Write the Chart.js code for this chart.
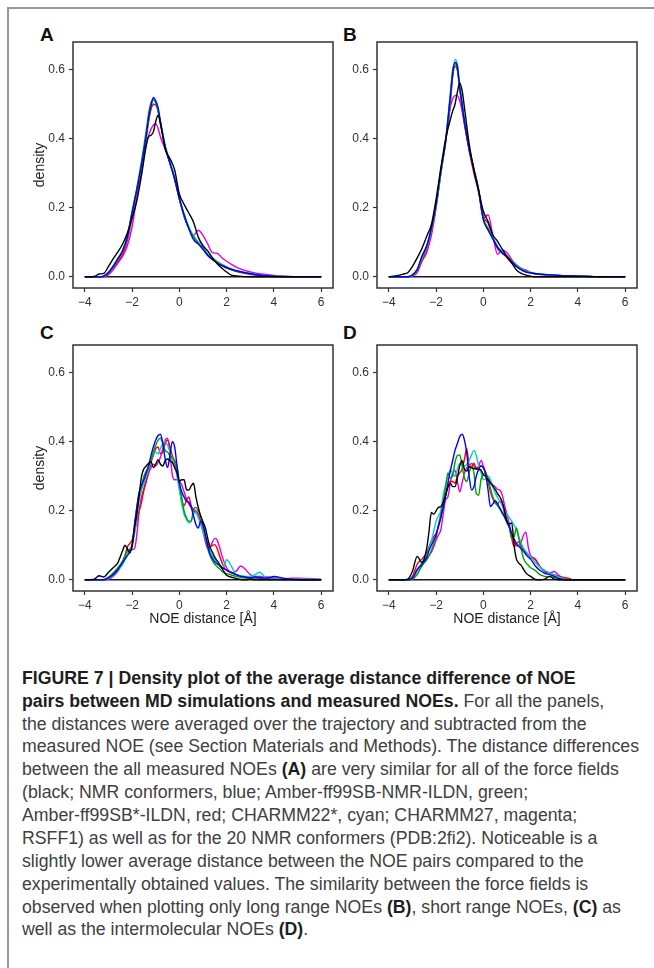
<!DOCTYPE html>
<html>
<head>
<meta charset="utf-8">
<title>NOE density plots</title>
<script src="https://cdn.jsdelivr.net/npm/chart.js@4.4.1/dist/chart.umd.min.js"></script>
<style>
  html, body { margin:0; padding:0; background:#ffffff; }
  body { width:654px; height:968px; position:relative; overflow:hidden; font-family:"Liberation Sans", Arial, Helvetica, sans-serif; }
  #frame { position:absolute; left:7px; top:7px; width:700px; height:1000px; border-top:2px solid #979797; border-left:2px solid #979797; box-sizing:border-box; }
  canvas { position:absolute; }
  .plabel { position:absolute; font-weight:bold; font-size:19px; line-height:19px; color:#111; }
  #caption { position:absolute; left:22px; top:666.8px; transform-origin:0 0; font-size:17.5px; line-height:22.88px; color:#404040; white-space:nowrap; }
  #caption b { color:#1e1e1e; }
  #caption .ln span { display:inline-block; }
</style>
</head>
<body>
<div id="frame"></div>
<div class="plabel" style="left:40px;top:24.5px">A</div>
<div class="plabel" style="left:343px;top:24.5px">B</div>
<div class="plabel" style="left:40px;top:322.5px">C</div>
<div class="plabel" style="left:343px;top:322.5px">D</div>
<canvas id="cA" width="320" height="290" style="left:20px;top:30px;width:320px;height:290px"></canvas>
<canvas id="cB" width="310" height="290" style="left:340px;top:30px;width:310px;height:290px"></canvas>
<canvas id="cC" width="320" height="300" style="left:20px;top:333px;width:320px;height:300px"></canvas>
<canvas id="cD" width="310" height="300" style="left:340px;top:333px;width:310px;height:300px"></canvas>

<div id="caption">
  <div class="ln"><span><b>FIGURE 7 | Density plot of the average distance difference of NOE</b></span></div>
  <div class="ln"><span><b>pairs between MD simulations and measured NOEs.</b> For all the panels,</span></div>
  <div class="ln"><span>the distances were averaged over the trajectory and subtracted from the</span></div>
  <div class="ln" id="refline"><span>measured NOE (see Section Materials and Methods). The distance differences</span></div>
  <div class="ln"><span>between the all measured NOEs <b>(A)</b> are very similar for all of the force fields</span></div>
  <div class="ln"><span>(black; NMR conformers, blue; Amber-ff99SB-NMR-ILDN, green;</span></div>
  <div class="ln"><span>Amber-ff99SB*-ILDN, red; CHARMM22*, cyan; CHARMM27, magenta;</span></div>
  <div class="ln"><span>RSFF1) as well as for the 20 NMR conformers (PDB:2fi2). Noticeable is a</span></div>
  <div class="ln"><span>slightly lower average distance between the NOE pairs compared to the</span></div>
  <div class="ln"><span>experimentally obtained values. The similarity between the force fields is</span></div>
  <div class="ln"><span>observed when plotting only long range NOEs <b>(B)</b>, short range NOEs, <b>(C)</b> as</span></div>
  <div class="ln"><span>well as the intermolecular NOEs <b>(D)</b>.</span></div>
</div>

<script>
// ---------------- DATA ----------------
const X_TICKS = [-4, -2, 0, 2, 4, 6];
const Y_TICKS = [0, 0.2, 0.4, 0.6];
const X_TITLE = 'NOE distance [Å]';
const Y_TITLE = 'density';
const BASE_X = [-4, 6];
const BASE_Y = [0, 0];

// x grid for panels A and B
const GRID_AB = [-4, -3.6, -3.4, -3.2, -3.0, -2.8, -2.6, -2.4, -2.2, -2.0, -1.8, -1.6, -1.4, -1.3, -1.2, -1.1, -1.0, -0.9, -0.8, -0.6, -0.4, -0.2, 0, 0.2, 0.4, 0.6, 0.8, 1.0, 1.2, 1.4, 1.6, 1.8, 2.0, 2.2, 2.5, 3.0, 3.5, 4.0, 4.5, 5.0, 6.0];

// Panel A: all NOEs
const A_black   = [0, 0.001, 0.008, 0.01, 0.03, 0.052, 0.072, 0.095, 0.127, 0.17, 0.22, 0.295, 0.38, 0.406, 0.41, 0.42, 0.45, 0.468, 0.444, 0.37, 0.343, 0.31, 0.24, 0.21, 0.185, 0.158, 0.115, 0.09, 0.075, 0.055, 0.038, 0.025, 0.014, 0.005, 0.002, 0, 0, 0, 0, 0, 0];
const A_blue    = [0, 0, 0, 0.002, 0.012, 0.03, 0.052, 0.075, 0.115, 0.186, 0.252, 0.325, 0.41, 0.46, 0.495, 0.52, 0.51, 0.49, 0.45, 0.377, 0.33, 0.285, 0.228, 0.18, 0.14, 0.108, 0.095, 0.08, 0.062, 0.05, 0.04, 0.033, 0.027, 0.022, 0.016, 0.009, 0.004, 0.002, 0.0005, 0, 0];
const A_green   = [0, 0, 0, 0.003, 0.014, 0.032, 0.054, 0.078, 0.12, 0.19, 0.258, 0.335, 0.425, 0.475, 0.505, 0.515, 0.505, 0.48, 0.445, 0.378, 0.33, 0.282, 0.225, 0.175, 0.14, 0.115, 0.097, 0.08, 0.064, 0.052, 0.042, 0.034, 0.027, 0.021, 0.015, 0.008, 0.004, 0.002, 0.0005, 0, 0];
const A_red     = [0, 0, 0, 0.001, 0.01, 0.025, 0.045, 0.065, 0.105, 0.172, 0.245, 0.32, 0.405, 0.45, 0.485, 0.5, 0.498, 0.48, 0.445, 0.375, 0.33, 0.283, 0.225, 0.175, 0.14, 0.118, 0.1, 0.082, 0.063, 0.05, 0.04, 0.032, 0.025, 0.02, 0.014, 0.007, 0.003, 0.001, 0, 0, 0];
const A_cyan    = [0, 0, 0, 0.002, 0.011, 0.028, 0.05, 0.074, 0.112, 0.18, 0.25, 0.322, 0.41, 0.46, 0.495, 0.512, 0.505, 0.485, 0.45, 0.38, 0.335, 0.288, 0.228, 0.182, 0.145, 0.118, 0.1, 0.085, 0.066, 0.055, 0.045, 0.036, 0.029, 0.023, 0.017, 0.01, 0.005, 0.003, 0.001, 0, 0];
const A_magenta = [0, 0, 0, 0, 0.006, 0.02, 0.04, 0.06, 0.09, 0.145, 0.23, 0.31, 0.39, 0.41, 0.428, 0.44, 0.444, 0.43, 0.405, 0.37, 0.33, 0.285, 0.225, 0.18, 0.142, 0.12, 0.135, 0.12, 0.095, 0.07, 0.068, 0.055, 0.045, 0.036, 0.025, 0.014, 0.008, 0.004, 0.002, 0, 0];

// Panel B: long range NOEs
const B_black   = [0, 0.004, 0.008, 0.012, 0.03, 0.055, 0.082, 0.117, 0.151, 0.225, 0.315, 0.398, 0.455, 0.48, 0.5, 0.535, 0.562, 0.54, 0.49, 0.385, 0.31, 0.25, 0.19, 0.16, 0.122, 0.103, 0.08, 0.058, 0.04, 0.02, 0.01, 0.005, 0.002, 0, 0, 0, 0, 0, 0, 0, 0];
const B_blue    = [0, 0, 0, 0, 0.006, 0.022, 0.06, 0.09, 0.141, 0.212, 0.31, 0.39, 0.52, 0.585, 0.622, 0.61, 0.55, 0.5, 0.449, 0.37, 0.31, 0.25, 0.165, 0.135, 0.11, 0.085, 0.068, 0.058, 0.043, 0.03, 0.02, 0.014, 0.011, 0.009, 0.007, 0.005, 0.003, 0.002, 0.001, 0, 0];
const B_green   = [0, 0, 0, 0, 0.005, 0.02, 0.055, 0.088, 0.138, 0.21, 0.305, 0.395, 0.53, 0.6, 0.618, 0.6, 0.545, 0.495, 0.45, 0.372, 0.312, 0.252, 0.17, 0.14, 0.112, 0.086, 0.07, 0.06, 0.045, 0.032, 0.022, 0.015, 0.011, 0.009, 0.007, 0.005, 0.003, 0.002, 0.001, 0, 0];
const B_red     = [0, 0, 0, 0, 0.004, 0.018, 0.045, 0.08, 0.13, 0.205, 0.3, 0.39, 0.5, 0.58, 0.61, 0.6, 0.545, 0.495, 0.445, 0.365, 0.3, 0.245, 0.175, 0.155, 0.115, 0.082, 0.07, 0.055, 0.04, 0.03, 0.022, 0.02, 0.012, 0.008, 0.006, 0.004, 0.003, 0.002, 0.001, 0, 0];
const B_cyan    = [0, 0, 0, 0, 0.005, 0.02, 0.052, 0.085, 0.135, 0.205, 0.3, 0.39, 0.51, 0.59, 0.63, 0.615, 0.555, 0.505, 0.455, 0.375, 0.315, 0.255, 0.17, 0.14, 0.115, 0.088, 0.072, 0.06, 0.046, 0.034, 0.024, 0.017, 0.013, 0.01, 0.008, 0.005, 0.003, 0.002, 0.001, 0, 0];
const B_magenta = [0, 0, 0, 0, 0.002, 0.012, 0.045, 0.07, 0.12, 0.2, 0.3, 0.39, 0.49, 0.515, 0.525, 0.525, 0.51, 0.48, 0.44, 0.37, 0.31, 0.25, 0.17, 0.18, 0.12, 0.065, 0.078, 0.07, 0.05, 0.035, 0.025, 0.017, 0.012, 0.01, 0.007, 0.005, 0.003, 0.003, 0.001, 0, 0];

// x grid for panels C and D
const GRID_CD = [-4, -3.6, -3.4, -3.2, -3.0, -2.8, -2.6, -2.4,
  -2.3, -2.2, -2.1, -2.0, -1.9, -1.8, -1.7, -1.6, -1.5, -1.4, -1.3, -1.2, -1.1, -1.0, -0.9, -0.8, -0.7, -0.6, -0.5, -0.4, -0.3, -0.2, -0.1,
  0, 0.1, 0.2, 0.3, 0.4, 0.5, 0.6, 0.7, 0.8, 0.9, 1.0, 1.1, 1.2, 1.3, 1.4, 1.5, 1.6, 1.7, 1.8, 1.9, 2.0,
  2.2, 2.4, 2.6, 2.8, 3.0, 3.2, 3.4, 3.6, 3.8, 4.0, 4.5, 5.0, 5.5, 6.0];

// Panel C: short range NOEs
const C_black = [0, 0.002, 0.012, 0.008, 0.022, 0.035, 0.05, 0.085,
  0.1, 0.09, 0.078, 0.1, 0.15, 0.19, 0.245, 0.3, 0.322, 0.33, 0.338, 0.343, 0.325, 0.335, 0.348, 0.335, 0.33, 0.345, 0.35, 0.345, 0.34, 0.325, 0.31,
  0.285, 0.29, 0.29, 0.262, 0.26, 0.272, 0.28, 0.24, 0.21, 0.185, 0.168, 0.15, 0.12, 0.094, 0.08, 0.065, 0.055, 0.045, 0.033, 0.022, 0.013,
  0.008, 0.004, 0.001, 0, 0.002, 0, 0, 0, 0, 0, 0, 0, 0, 0];
const C_blue = [0, 0, 0, 0, 0.006, 0.015, 0.03, 0.05,
  0.06, 0.07, 0.08, 0.1, 0.16, 0.21, 0.255, 0.275, 0.29, 0.31, 0.33, 0.36, 0.385, 0.405, 0.418, 0.422, 0.395, 0.35, 0.325, 0.36, 0.4, 0.385, 0.33,
  0.28, 0.255, 0.24, 0.228, 0.225, 0.21, 0.185, 0.16, 0.15, 0.17, 0.16, 0.13, 0.1, 0.075, 0.062, 0.052, 0.046, 0.042, 0.036, 0.032, 0.028,
  0.022, 0.015, 0.01, 0.008, 0.006, 0.008, 0.006, 0.005, 0.006, 0.01, 0.003, 0.001, 0, 0];
const C_green = [0, 0, 0, 0, 0.008, 0.02, 0.035, 0.055,
  0.07, 0.085, 0.085, 0.095, 0.15, 0.21, 0.25, 0.27, 0.3, 0.315, 0.33, 0.345, 0.37, 0.39, 0.405, 0.41, 0.395, 0.375, 0.37, 0.36, 0.355, 0.345, 0.33,
  0.28, 0.24, 0.2, 0.18, 0.17, 0.17, 0.205, 0.21, 0.2, 0.185, 0.16, 0.125, 0.09, 0.07, 0.055, 0.045, 0.038, 0.032, 0.025, 0.02, 0.018,
  0.014, 0.01, 0.007, 0.005, 0.004, 0.004, 0.003, 0.003, 0.002, 0.002, 0.001, 0, 0, 0];
const C_red = [0, 0, 0, 0, 0.005, 0.015, 0.03, 0.05,
  0.07, 0.095, 0.105, 0.115, 0.14, 0.17, 0.2, 0.225, 0.26, 0.285, 0.31, 0.34, 0.36, 0.38, 0.385, 0.365, 0.37, 0.395, 0.405, 0.385, 0.36, 0.34, 0.31,
  0.27, 0.23, 0.215, 0.23, 0.24, 0.215, 0.2, 0.195, 0.185, 0.165, 0.145, 0.125, 0.105, 0.095, 0.1, 0.102, 0.09, 0.07, 0.05, 0.035, 0.027,
  0.02, 0.015, 0.01, 0.007, 0.005, 0.004, 0.003, 0.003, 0.002, 0.002, 0.001, 0, 0, 0];
const C_cyan = [0, 0, 0, 0, 0.004, 0.012, 0.028, 0.045,
  0.06, 0.075, 0.09, 0.1, 0.13, 0.18, 0.23, 0.26, 0.28, 0.3, 0.32, 0.345, 0.365, 0.37, 0.365, 0.38, 0.395, 0.4, 0.39, 0.37, 0.345, 0.33, 0.3,
  0.26, 0.22, 0.19, 0.175, 0.165, 0.17, 0.19, 0.195, 0.18, 0.16, 0.14, 0.12, 0.1, 0.085, 0.07, 0.058, 0.048, 0.04, 0.035, 0.042, 0.058,
  0.04, 0.015, 0.012, 0.01, 0.01, 0.015, 0.022, 0.01, 0.005, 0.004, 0.003, 0.002, 0.002, 0];
const C_magenta = [0, 0, 0, 0, 0.002, 0.01, 0.025, 0.05,
  0.07, 0.085, 0.088, 0.088, 0.09, 0.13, 0.2, 0.24, 0.265, 0.29, 0.31, 0.325, 0.335, 0.33, 0.34, 0.355, 0.38, 0.405, 0.41, 0.37, 0.305, 0.29, 0.29,
  0.285, 0.275, 0.255, 0.235, 0.22, 0.21, 0.205, 0.2, 0.19, 0.17, 0.14, 0.11, 0.09, 0.095, 0.11, 0.12, 0.115, 0.095, 0.07, 0.05, 0.035,
  0.02, 0.025, 0.04, 0.03, 0.015, 0.01, 0.01, 0.008, 0.008, 0.006, 0.004, 0.005, 0.004, 0.002];

// Panel D: intermolecular NOEs
const D_black = [0, 0, 0, 0.002, 0.025, 0.068, 0.05, 0.09,
  0.14, 0.195, 0.19, 0.2, 0.21, 0.212, 0.225, 0.245, 0.268, 0.28, 0.27, 0.27, 0.295, 0.33, 0.345, 0.32, 0.315, 0.327, 0.325, 0.322, 0.322, 0.32, 0.318,
  0.305, 0.3, 0.29, 0.28, 0.272, 0.262, 0.25, 0.24, 0.225, 0.2, 0.17, 0.162, 0.165, 0.1, 0.06, 0.048, 0.042, 0.03, 0.02, 0.014, 0.01,
  0.001, 0, 0.002, 0.01, 0.002, 0, 0, 0, 0, 0, 0, 0, 0, 0];
const D_blue = [0, 0, 0, 0, 0.005, 0.03, 0.045, 0.065,
  0.085, 0.1, 0.115, 0.13, 0.155, 0.18, 0.21, 0.24, 0.28, 0.315, 0.345, 0.375, 0.395, 0.415, 0.422, 0.405, 0.365, 0.3, 0.26, 0.27, 0.3, 0.32, 0.33,
  0.325, 0.305, 0.26, 0.212, 0.22, 0.23, 0.22, 0.208, 0.195, 0.183, 0.168, 0.154, 0.135, 0.118, 0.105, 0.097, 0.09, 0.083, 0.073, 0.066, 0.06,
  0.04, 0.027, 0.019, 0.015, 0.01, 0.004, 0.001, 0, 0, 0, 0, 0, 0, 0];
const D_green = [0, 0, 0, 0, 0.002, 0.015, 0.04, 0.058,
  0.07, 0.085, 0.105, 0.125, 0.16, 0.19, 0.225, 0.265, 0.31, 0.295, 0.3, 0.34, 0.36, 0.362, 0.33, 0.295, 0.285, 0.31, 0.33, 0.31, 0.25, 0.245, 0.29,
  0.305, 0.31, 0.29, 0.265, 0.24, 0.225, 0.215, 0.205, 0.192, 0.18, 0.165, 0.15, 0.12, 0.125, 0.15, 0.12, 0.09, 0.062, 0.05, 0.042, 0.035,
  0.027, 0.015, 0.01, 0.009, 0.007, 0.002, 0, 0, 0, 0, 0, 0, 0, 0];
const D_red = [0, 0, 0, 0, 0.01, 0.045, 0.06, 0.078,
  0.095, 0.112, 0.125, 0.135, 0.155, 0.18, 0.215, 0.245, 0.27, 0.285, 0.285, 0.28, 0.3, 0.31, 0.32, 0.35, 0.38, 0.33, 0.325, 0.338, 0.325, 0.325, 0.33,
  0.325, 0.31, 0.285, 0.255, 0.235, 0.222, 0.22, 0.228, 0.22, 0.19, 0.168, 0.152, 0.12, 0.097, 0.105, 0.11, 0.1, 0.088, 0.078, 0.072, 0.067,
  0.058, 0.038, 0.026, 0.02, 0.014, 0.01, 0.007, 0.005, 0, 0, 0, 0, 0, 0];
const D_cyan = [0, 0, 0, 0, 0.005, 0.025, 0.05, 0.07,
  0.09, 0.112, 0.14, 0.17, 0.185, 0.2, 0.245, 0.275, 0.3, 0.318, 0.31, 0.3, 0.32, 0.337, 0.335, 0.33, 0.335, 0.346, 0.362, 0.375, 0.36, 0.33, 0.31,
  0.29, 0.292, 0.3, 0.29, 0.268, 0.252, 0.238, 0.228, 0.215, 0.2, 0.19, 0.18, 0.17, 0.158, 0.145, 0.125, 0.106, 0.092, 0.082, 0.074, 0.067,
  0.05, 0.036, 0.027, 0.02, 0.014, 0.008, 0.004, 0.001, 0, 0, 0, 0, 0, 0];
const D_magenta = [0, 0, 0, 0, 0.002, 0.025, 0.045, 0.06,
  0.07, 0.08, 0.095, 0.115, 0.13, 0.145, 0.19, 0.232, 0.24, 0.28, 0.31, 0.317, 0.285, 0.255, 0.28, 0.31, 0.325, 0.33, 0.337, 0.33, 0.32, 0.33, 0.346,
  0.33, 0.31, 0.295, 0.285, 0.275, 0.27, 0.262, 0.26, 0.245, 0.215, 0.19, 0.16, 0.13, 0.11, 0.098, 0.1, 0.11, 0.13, 0.138, 0.095, 0.07,
  0.06, 0.037, 0.024, 0.02, 0.024, 0.012, 0.005, 0.002, 0, 0, 0, 0, 0, 0];

// ---------------- STYLE ----------------
const LABELS = { black:'NMR conformers', blue:'Amber-ff99SB-NMR-ILDN', green:'Amber-ff99SB*-ILDN', red:'CHARMM22*', cyan:'CHARMM27', magenta:'RSFF1' };
const COLORS = { black:'#000000', blue:'#0000ff', green:'#00a000', red:'#ff0000', cyan:'#00cdcd', magenta:'#e000e0' };
const ORDER = ['black', 'blue', 'green', 'cyan', 'red', 'magenta']; // first drawn on top

Chart.defaults.font.family = "'Liberation Sans', Arial, Helvetica, sans-serif";

function pts(xs, ys) { return xs.map((x, i) => ({ x: x, y: ys[i] })); }
function fmtX(v) { return v < 0 ? '\u2212' + Math.abs(v) : String(v); }

const framePlugin = {
  id: 'panelFrame',
  afterDraw(chart) {
    const { ctx, chartArea: a } = chart;
    ctx.save();
    ctx.strokeStyle = '#333333';
    ctx.lineWidth = 1.5;
    ctx.strokeRect(a.left, a.top, a.right - a.left, a.bottom - a.top);
    ctx.restore();
  }
};

function buildPanel(canvasId, xs, data, opt) {
  const datasets = ORDER.map(name => ({
    label: LABELS[name],
    data: pts(xs, data[name]),
    borderColor: COLORS[name],
    borderWidth: 1.4,
    pointRadius: 0,
    fill: false,
    cubicInterpolationMode: 'monotone'
  }));
  datasets.push({ label: 'baseline', data: pts(BASE_X, BASE_Y), borderColor: '#1a1a1a', borderWidth: 1.6, pointRadius: 0, fill: false });
  const gridOpts = { display: true, drawOnChartArea: false, drawTicks: true, tickLength: 4, tickColor: '#333333', tickWidth: 1.2, color: '#333333' };
  new Chart(document.getElementById(canvasId), {
    type: 'line',
    data: { datasets },
    options: {
      responsive: false, animation: false, devicePixelRatio: 1,
      layout: { padding: { top: 12, right: opt.padRight, left: 0, bottom: 0 } },
      plugins: { legend: { display: false }, tooltip: { enabled: false } },
      scales: {
        x: {
          type: 'linear', min: -4.5, max: 6.5,
          afterBuildTicks: s => { s.ticks = X_TICKS.map(v => ({ value: v })); },
          afterFit: s => { s.height = opt.xh; },
          ticks: { callback: fmtX, color: '#333333', font: { size: 12 }, padding: 3, maxRotation: 0, autoSkip: false },
          grid: gridOpts, border: { display: false },
          title: { display: opt.xTitle, text: X_TITLE, color: '#222222', font: { size: 14 }, padding: { top: 0, bottom: 5 } }
        },
        y: {
          type: 'linear', min: -0.0324, max: 0.6804,
          afterBuildTicks: s => { s.ticks = Y_TICKS.map(v => ({ value: v })); },
          afterFit: s => { s.width = opt.yw; },
          ticks: { callback: v => Number(v).toFixed(1), color: '#333333', font: { size: 12 }, padding: 4, autoSkip: false },
          grid: gridOpts, border: { display: false },
          title: { display: opt.yTitle, text: Y_TITLE, color: '#222222', font: { size: 14 }, padding: { top: 11.6, bottom: 0 } }
        }
      }
    },
    plugins: [framePlugin]
  });
}

buildPanel('cA', GRID_AB, { black: A_black, blue: A_blue, green: A_green, red: A_red, cyan: A_cyan, magenta: A_magenta },
  { yw: 53, xh: 32, padRight: 7, xTitle: false, yTitle: true });
buildPanel('cB', GRID_AB, { black: B_black, blue: B_blue, green: B_green, red: B_red, cyan: B_cyan, magenta: B_magenta },
  { yw: 37, xh: 32, padRight: 13, xTitle: false, yTitle: false });
buildPanel('cC', GRID_CD, { black: C_black, blue: C_blue, green: C_green, red: C_red, cyan: C_cyan, magenta: C_magenta },
  { yw: 53, xh: 42, padRight: 7, xTitle: true, yTitle: true });
buildPanel('cD', GRID_CD, { black: D_black, blue: D_blue, green: D_green, red: D_red, cyan: D_cyan, magenta: D_magenta },
  { yw: 37, xh: 42, padRight: 13, xTitle: true, yTitle: false });

// fit caption width to the reference line length
(function () {
  const cap = document.getElementById('caption');
  const ref = document.querySelector('#refline span');
  const w = ref.getBoundingClientRect().width;
  if (w > 0) cap.style.transform = 'scaleX(' + (617 / w) + ')';
})();
</script>
</body>
</html>
